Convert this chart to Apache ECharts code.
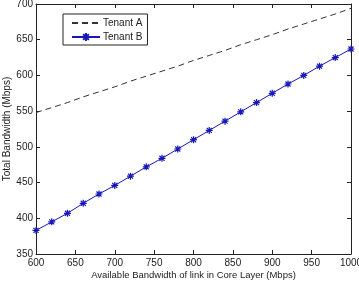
<!DOCTYPE html>
<html><head><meta charset="utf-8">
<script src="https://cdn.jsdelivr.net/npm/echarts@6/dist/echarts.min.js"></script>
<style>html,body{margin:0;padding:0;background:#fff}#c{width:359px;height:288px}</style>
</head><body><div id="c"></div>
<script>
const xValues = [600,620,640,660,680,700,720,740,760,780,800,820,840,860,880,900,920,940,960,980,1000];
const tenantA = [548,555,562,570,577,584,592,599,606,613,621,628,635,643,650,657,665,672,679,686,694];
const tenantB = [383,395,407,421,434,446,459,472,484,497,510,523,536,549,562,575,588,600,613,625,637];
const seriesNames = ['Tenant A','Tenant B'];
const xTicks = [600,650,700,750,800,850,900,950,1000];
const yTicks = [350,400,450,500,550,600,650,700];

const font = 'Liberation Sans, Arial, sans-serif';
const star = 'path://M0,-5L0,5M-5,0L5,0M-3.6,-3.6L3.6,3.6M-3.6,3.6L3.6,-3.6';
const chart = echarts.init(document.getElementById('c'));
const axisCommon = {
  axisLine:{show:true,onZero:false,lineStyle:{color:'#222',width:1}},
  axisTick:{show:true,inside:true,length:4,lineStyle:{color:'#222'}},
  splitLine:{show:false}
};
chart.setOption({
  animation:false,
  grid:{left:36,right:8,top:4,bottom:34,outerBoundsMode:'none',containLabel:false},
  legend:{
    left:63, top:14, orient:'vertical', itemWidth:28, itemHeight:10, itemGap:4,
    padding:[4,5,3,8], borderColor:'#222', borderWidth:1, backgroundColor:'#fff',
    textStyle:{fontFamily:font,fontSize:10,color:'#222',padding:[0,0,0,-2]},
    data:[{name:seriesNames[0],itemStyle:{color:'transparent',borderWidth:0}},{name:seriesNames[1]}]
  },
  xAxis:[
    Object.assign({type:'value',min:600,max:1000,interval:50,position:'bottom',
      axisLabel:{fontFamily:font,fontSize:10,color:'#222',margin:4,formatter:v=>String(v),
        customValues:xTicks},
      name:'Available Bandwidth of link in Core Layer (Mbps)',nameLocation:'middle',nameGap:16,
      nameMoveOverlap:false,
      nameTextStyle:{fontFamily:font,fontSize:9.5,color:'#222'}},axisCommon),
    Object.assign({type:'value',min:600,max:1000,interval:50,position:'top',axisLabel:{show:false}},axisCommon)
  ],
  yAxis:[
    Object.assign({type:'value',min:350,max:700,interval:50,position:'left',
      axisLabel:{fontFamily:font,fontSize:10,color:'#222',margin:3,formatter:v=>String(v),
        customValues:yTicks},
      name:'Total Bandwidth (Mbps)',nameLocation:'middle',nameGap:24,
      nameMoveOverlap:false,
      nameTextStyle:{fontFamily:font,fontSize:10,color:'#222'}},axisCommon),
    Object.assign({type:'value',min:350,max:700,interval:50,position:'right',axisLabel:{show:false}},axisCommon)
  ],
  series:[
    {name:seriesNames[0],type:'line',data:xValues.map((x,i)=>[x,tenantA[i]]),showSymbol:false,symbol:'none',
     lineStyle:{color:'#333',width:1,type:[6,4]},itemStyle:{color:'#333'}},
    {name:seriesNames[1],type:'line',data:xValues.map((x,i)=>[x,tenantB[i]]),symbol:star,symbolSize:7,
     lineStyle:{color:'#1818b8',width:1},itemStyle:{color:'#1818b8',borderColor:'#1818b8',borderWidth:1.2}}
  ]
});
</script></body></html>
